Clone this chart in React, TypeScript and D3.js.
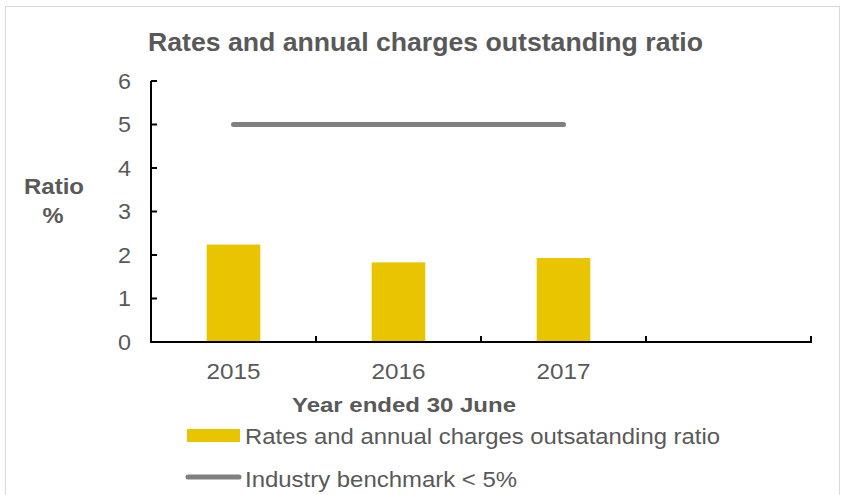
import React from "react";
import * as d3 from "d3";

const categories = ["2015", "2016", "2017", ""];
const ratioValues = [2.24, 1.83, 1.93];
const benchmarkValues = [5, 5, 5];
const yTicks = [0, 1, 2, 3, 4, 5, 6];

const W = 848;
const H = 495;
const TEXT = "#595959";
const BAR = "#E9C400";
const LINE = "#808080";
const FONT = "'Liberation Sans', Arial, sans-serif";

export default function App() {
  const x = d3.scaleBand<string>().domain(categories).range([151, 811]).padding(0);
  const y = d3.scaleLinear().domain([0, 6]).range([342, 81]);
  const barW = x.bandwidth() * 0.325;

  const lineGen = d3
    .line<number>()
    .x((_, i) => (x(categories[i]) as number) + x.bandwidth() / 2)
    .y((d) => y(d));

  return (
    <svg
      width={W}
      height={H}
      style={{ position: "absolute", left: 0, top: 0, fontFamily: FONT }}
    >
      <rect x={0} y={0} width={W} height={H} fill="#fff" />
      <rect x={5.5} y={6.5} width={834} height={500} fill="#fff" stroke="#d9d9d9" strokeWidth={1} />

      <text x={148} y={51} fontSize={25.5} fontWeight="bold" fill={TEXT} textLength={555} lengthAdjust="spacingAndGlyphs">
        Rates and annual charges outstanding ratio
      </text>

      {/* bars */}
      {ratioValues.map((v, i) => (
        <rect
          key={i}
          x={(x(categories[i]) as number) + x.bandwidth() / 2 - barW / 2}
          y={y(v)}
          width={barW}
          height={y(0) - y(v)}
          fill={BAR}
        />
      ))}

      {/* benchmark */}
      <path d={lineGen(benchmarkValues) || ""} fill="none" stroke={LINE} strokeWidth={5} strokeLinecap="round" />

      {/* y axis */}
      <line x1={151} x2={151} y1={y(6)} y2={y(0)} stroke="#000" strokeWidth={2} />
      {yTicks.map((t) => (
        <g key={t}>
          <line x1={151} x2={157} y1={y(t)} y2={y(t)} stroke="#000" strokeWidth={2} />
          <text x={131} y={y(t)} dy="0.36em" textAnchor="end" fontSize={22} fill={TEXT} textLength={13} lengthAdjust="spacingAndGlyphs">
            {t}
          </text>
        </g>
      ))}

      {/* x axis */}
      <line x1={150} x2={812} y1={y(0)} y2={y(0)} stroke="#000" strokeWidth={2} />
      {categories.map((c, i) => {
        const bx = (x(c) as number) + x.bandwidth();
        return <line key={"t" + i} x1={bx} x2={bx} y1={y(0)} y2={y(0) - 6} stroke="#000" strokeWidth={2} />;
      })}
      {categories.map((c, i) =>
        c ? (
          <text
            key={"l" + i}
            x={(x(c) as number) + x.bandwidth() / 2}
            y={379}
            textAnchor="middle"
            fontSize={22.5}
            fill={TEXT}
            textLength={54}
            lengthAdjust="spacingAndGlyphs"
          >
            {c}
          </text>
        ) : null
      )}

      <text x={292} y={412} fontSize={21} fontWeight="bold" fill={TEXT} textLength={224} lengthAdjust="spacingAndGlyphs">
        Year ended 30 June
      </text>

      <text x={24} y={194} fontSize={22} fontWeight="bold" fill={TEXT} textLength={60} lengthAdjust="spacingAndGlyphs">
        Ratio
      </text>
      <text x={53} y={223} textAnchor="middle" fontSize={22} fontWeight="bold" fill={TEXT} textLength={21} lengthAdjust="spacingAndGlyphs">
        %
      </text>

      {/* legend */}
      <rect x={187} y={429} width={53} height={13} fill={BAR} />
      <text x={245} y={444} fontSize={22} fill={TEXT} textLength={475} lengthAdjust="spacingAndGlyphs">
        Rates and annual charges outsatanding ratio
      </text>
      <line x1={188} x2={239} y1={477} y2={477} stroke={LINE} strokeWidth={5} strokeLinecap="round" />
      <text x={245} y={487} fontSize={22} fill={TEXT} textLength={272} lengthAdjust="spacingAndGlyphs">
        Industry benchmark &lt; 5%
      </text>
    </svg>
  );
}
